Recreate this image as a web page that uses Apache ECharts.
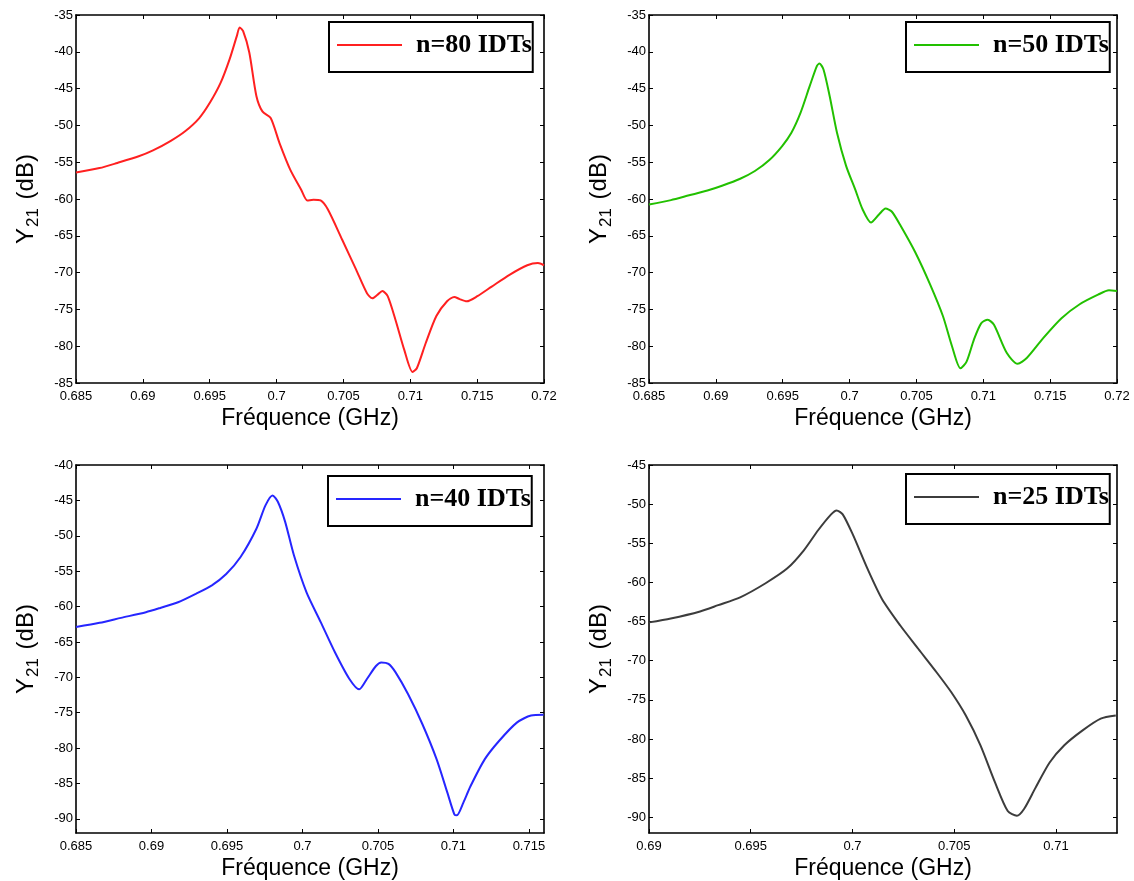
<!DOCTYPE html>
<html>
<head>
<meta charset="utf-8">
<script src="https://cdn.jsdelivr.net/npm/echarts@6/dist/echarts.min.js"></script>
<style>
html,body{margin:0;padding:0;background:#fff;}
#chart{width:1134px;height:881px;}
</style>
</head>
<body>
<div id="chart"></div>
<script>
// ---------- data ----------
const names = ['n=80 IDTs', 'n=50 IDTs', 'n=40 IDTs', 'n=25 IDTs'];
const colors = ['#ff2020', '#22c000', '#2626ff', '#3c3c3c'];

const freq80 = [0.685,0.68676,0.68809,0.68969,0.69076,0.69209,0.69316,0.69422,0.69502,0.69582,0.69649,0.69702,0.69724,0.6975,0.69796,0.69849,0.69894,0.69956,0.70022,0.70102,0.70183,0.7023,0.70276,0.70329,0.70383,0.7049,0.70595,0.70676,0.70716,0.70756,0.70791,0.70831,0.70889,0.70955,0.71017,0.71049,0.71115,0.71195,0.71275,0.71329,0.71369,0.71422,0.71502,0.71609,0.71742,0.71875,0.71955,0.72];
const y80 = [-56.4,-55.8,-55.1,-54.2,-53.4,-52.1,-50.8,-49.0,-46.9,-44.2,-41.0,-37.9,-36.7,-37.2,-40.1,-46.0,-48.1,-49.0,-52.4,-56.0,-58.7,-60.2,-60.1,-60.2,-61.4,-65.5,-69.6,-72.8,-73.5,-73.0,-72.5,-73.2,-76.4,-80.5,-83.5,-83.0,-79.6,-75.9,-73.9,-73.3,-73.6,-73.9,-73.2,-71.9,-70.3,-69.0,-68.7,-69.0];

const freq50 = [0.685,0.68664,0.688,0.68937,0.69046,0.69182,0.69292,0.694,0.69496,0.69565,0.69633,0.69701,0.69756,0.69775,0.69805,0.69851,0.69906,0.69974,0.70042,0.70097,0.7016,0.7022,0.70269,0.70315,0.70384,0.70493,0.70602,0.70698,0.70766,0.70829,0.70875,0.7093,0.70984,0.71033,0.7108,0.71175,0.71257,0.71325,0.71448,0.71585,0.71721,0.71858,0.7194,0.72];
const y50 = [-60.75,-60.15,-59.5,-58.85,-58.2,-57.25,-56.2,-54.7,-52.8,-51.0,-48.3,-44.7,-41.9,-41.6,-42.4,-46.0,-51.0,-55.5,-58.7,-61.4,-63.2,-62.1,-61.3,-61.7,-63.7,-67.3,-71.6,-75.9,-80.0,-83.0,-82.1,-79.1,-76.9,-76.4,-77.1,-80.9,-82.4,-81.6,-78.9,-76.2,-74.3,-73.0,-72.4,-72.5];

const freq40 = [0.685,0.68656,0.68798,0.68963,0.69058,0.69176,0.69294,0.694,0.69495,0.6959,0.69695,0.69755,0.69802,0.69837,0.69885,0.69944,0.70027,0.70121,0.70216,0.7031,0.70376,0.70428,0.70487,0.70522,0.7057,0.70617,0.707,0.70794,0.70889,0.7096,0.71007,0.71023,0.71066,0.71113,0.71207,0.71302,0.7142,0.71514,0.71597];
const y40 = [-62.9,-62.3,-61.6,-60.8,-60.2,-59.4,-58.2,-57.0,-55.4,-53.0,-49.0,-45.7,-44.3,-45.2,-48.0,-52.8,-58.0,-62.2,-66.5,-70.2,-71.7,-70.2,-68.4,-67.9,-68.1,-69.3,-72.4,-76.6,-81.6,-86.3,-89.4,-89.5,-87.7,-85.4,-81.6,-79.0,-76.4,-75.4,-75.3];

const freq25 = [0.69,0.69107,0.69251,0.6934,0.69448,0.69573,0.6968,0.69761,0.69832,0.69895,0.69922,0.69952,0.70002,0.70073,0.70145,0.70235,0.70324,0.70414,0.70485,0.70557,0.70629,0.707,0.70763,0.70808,0.70844,0.70898,0.70969,0.71041,0.71131,0.7122,0.71294];
const y25 = [-65.1,-64.6,-63.7,-62.9,-61.9,-60.1,-58.2,-55.9,-53.3,-51.3,-50.8,-51.3,-53.9,-58.2,-62.1,-65.5,-68.5,-71.5,-74.0,-77.0,-80.8,-85.5,-89.2,-89.8,-88.9,-86.3,-83.0,-80.8,-78.9,-77.4,-77.0];

// axis ranges and tick labels
const xRanges = [[0.685, 0.72], [0.685, 0.72], [0.685, 0.716], [0.69, 0.713]];
const yRanges = [[-85, -35], [-85, -35], [-92, -40], [-92, -45]];
const xTicks = [
  [0.685,0.69,0.695,0.7,0.705,0.71,0.715,0.72],
  [0.685,0.69,0.695,0.7,0.705,0.71,0.715,0.72],
  [0.685,0.69,0.695,0.7,0.705,0.71,0.715],
  [0.69,0.695,0.7,0.705,0.71]
];
const yTicks = [
  [-85,-80,-75,-70,-65,-60,-55,-50,-45,-40,-35],
  [-85,-80,-75,-70,-65,-60,-55,-50,-45,-40,-35],
  [-90,-85,-80,-75,-70,-65,-60,-55,-50,-45,-40],
  [-90,-85,-80,-75,-70,-65,-60,-55,-50,-45]
];
const xNameText = 'Fréquence (GHz)';
const yNameText = '{a|Y}{s|21}{a| (dB)}';

const freqs = [freq80, freq50, freq40, freq25];
const ys = [y80, y50, y40, y25];

// ---------- layout ----------
const SANS = '"Liberation Sans", Arial, sans-serif';
const SERIF = '"Liberation Serif", "Times New Roman", serif';
const grids = [
  {left: 76, top: 15, width: 468, height: 368},
  {left: 649, top: 15, width: 468, height: 368},
  {left: 76, top: 465, width: 468, height: 369},
  {left: 649, top: 465, width: 468, height: 369}
];
const legendPos = [
  {left: 329, top: 22},
  {left: 906, top: 22},
  {left: 328, top: 476},
  {left: 906, top: 474}
];

function fmt(v) { return String(parseFloat(Number(v).toFixed(4))); }

const xAxis = [], yAxis = [], series = [], legend = [];
for (let i = 0; i < 4; i++) {
  const common = {
    gridIndex: i,
    type: 'value',
    axisLine: {show: true, onZero: false, lineStyle: {color: '#000', width: 1.6}},
    axisTick: {show: true, inside: true, length: 4, lineStyle: {color: '#000', width: 1}},
    splitLine: {show: false}
  };
  xAxis.push(Object.assign({}, common, {
    position: 'bottom',
    min: xRanges[i][0], max: xRanges[i][1],
    axisTick: Object.assign({}, common.axisTick, {customValues: xTicks[i]}),
    axisLabel: {customValues: xTicks[i], formatter: fmt, color: '#000', fontFamily: SANS, fontSize: 13, margin: 7, showMinLabel: true, showMaxLabel: true},
    name: xNameText, nameLocation: 'middle', nameGap: 24,
    nameTextStyle: {fontFamily: SANS, fontSize: 23, color: '#000'}
  }));
  xAxis.push(Object.assign({}, common, {
    position: 'top',
    min: xRanges[i][0], max: xRanges[i][1],
    axisTick: Object.assign({}, common.axisTick, {customValues: xTicks[i]}),
    axisLabel: {show: false}
  }));
  yAxis.push(Object.assign({}, common, {
    position: 'left',
    min: yRanges[i][0], max: yRanges[i][1],
    axisTick: Object.assign({}, common.axisTick, {customValues: yTicks[i]}),
    axisLabel: {customValues: yTicks[i], formatter: fmt, color: '#000', fontFamily: SANS, fontSize: 13, margin: 3, showMinLabel: true, showMaxLabel: true},
    name: yNameText, nameLocation: 'middle', nameGap: 34, nameRotate: 90,
    nameTextStyle: {
      rich: {
        a: {fontFamily: SANS, fontSize: 24, color: '#000', lineHeight: 32},
        s: {fontFamily: SANS, fontSize: 17, color: '#000', verticalAlign: 'bottom', padding: [20, 2, 0, 1], lineHeight: 17}
      }
    }
  }));
  yAxis.push(Object.assign({}, common, {
    position: 'right',
    min: yRanges[i][0], max: yRanges[i][1],
    axisTick: Object.assign({}, common.axisTick, {customValues: yTicks[i]}),
    axisLabel: {show: false}
  }));
  const data = freqs[i].map((f, k) => [f, ys[i][k]]);
  series.push({
    name: names[i], type: 'line',
    xAxisIndex: 2 * i, yAxisIndex: 2 * i,
    data: data, smooth: 0.25, symbol: 'none', showSymbol: false,
    lineStyle: {color: colors[i], width: 2},
    itemStyle: {color: colors[i]},
    animation: false
  });
  legend.push({
    data: [names[i]],
    left: legendPos[i].left, top: legendPos[i].top,
    orient: 'horizontal',
    backgroundColor: '#fff',
    borderColor: '#000', borderWidth: 2, borderRadius: 0,
    padding: [8, 1, 12, 8],
    icon: 'rect',
    itemWidth: 65, itemHeight: 2,
    selectedMode: false,
    textStyle: {fontFamily: SERIF, fontWeight: 'bold', fontSize: 26, color: '#000', padding: [0, 0, 0, 9], lineHeight: 30}
  });
}

const chart = echarts.init(document.getElementById('chart'), null, {renderer: 'canvas'});
chart.setOption({
  backgroundColor: '#fff',
  animation: false,
  grid: grids.map(g => Object.assign({containLabel: false}, g)),
  xAxis: xAxis,
  yAxis: yAxis,
  legend: legend,
  series: series
});
</script>
</body>
</html>
